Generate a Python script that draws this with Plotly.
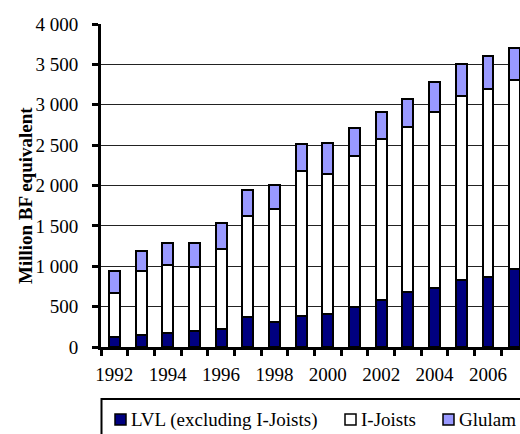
import plotly.graph_objects as go

years = list(range(1992, 2008))
lvl = [120, 150, 170, 200, 225, 375, 305, 390, 410, 500, 585, 675, 735, 830, 865, 960]
ijoists = [550, 790, 840, 790, 990, 1245, 1405, 1790, 1735, 1860, 1990, 2055, 2175, 2275, 2330, 2350]
glulam = [275, 255, 275, 295, 325, 320, 300, 335, 385, 350, 340, 345, 375, 400, 410, 395]

series_names = ["LVL (excluding I-Joists)", "I-Joists", "Glulam"]
series_colors = ["#000080", "#FFFFFF", "#9999FF"]

y_ticks = [0, 500, 1000, 1500, 2000, 2500, 3000, 3500, 4000]
y_ticktext = ["0", "500", "1 000", "1 500", "2 000", "2 500", "3 000", "3 500", "4 000"]
x_label_years = [1992, 1994, 1996, 1998, 2000, 2002, 2004, 2006]

FONT = "Liberation Serif, Times New Roman, serif"

W, H = 520, 434
ML, MR, MT, MB = 101, 0, 24, 87
PW, PH = W - ML - MR, H - MT - MB


def px_x(p):
    return (p - ML) / PW


def px_y(p):
    return (H - MB - p) / PH


fig = go.Figure()
for name, vals, col in zip(series_names, [lvl, ijoists, glulam], series_colors):
    fig.add_trace(go.Bar(
        x=years, y=vals, name=name, width=0.41,
        marker=dict(color=col, line=dict(color="black", width=2)),
        showlegend=False,
    ))

boundaries = [y - 0.5 for y in years]

# manual legend (box, swatches, labels)
shapes = [dict(type="rect", xref="paper", yref="paper",
               x0=px_x(101.5), x1=px_x(540), y0=px_y(399), y1=px_y(450),
               line=dict(color="black", width=2), fillcolor="white", layer="above")]
annotations = []
sw_left = [115, 345, 443]
for i, (name, col) in enumerate(zip(series_names, series_colors)):
    x0 = sw_left[i]
    shapes.append(dict(type="rect", xref="paper", yref="paper",
                       x0=px_x(x0), x1=px_x(x0 + 11), y0=px_y(425), y1=px_y(414),
                       line=dict(color="black", width=1.5), fillcolor=col, layer="above"))
    annotations.append(dict(xref="paper", yref="paper", x=px_x(x0 + 14), y=px_y(419.5),
                            xanchor="left", yanchor="middle", text=name, showarrow=False,
                            font=dict(family=FONT, size=19, color="black")))

annotations.append(dict(xref="paper", yref="paper", x=px_x(26), y=px_y(196),
                        xanchor="center", yanchor="middle", textangle=-90,
                        text="<b>Million BF equivalent</b>", showarrow=False,
                        font=dict(family=FONT, size=19, color="black")))

fig.update_layout(
    barmode="stack",
    width=W, height=H,
    margin=dict(l=ML, r=MR, t=MT, b=MB, autoexpand=False),
    paper_bgcolor="white", plot_bgcolor="white",
    font=dict(family=FONT, size=19, color="black"),
    showlegend=False,
    shapes=shapes,
    annotations=annotations,
    xaxis=dict(
        range=[1991.5, 2007.2],
        tickmode="array", tickvals=x_label_years,
        ticktext=[str(v) for v in x_label_years],
        ticks="", ticklabelstandoff=8,
        minor=dict(tickmode="array", tickvals=boundaries, ticks="outside",
                   ticklen=6, tickwidth=3, tickcolor="black", showgrid=False),
        showline=True, linecolor="black", linewidth=3,
        showgrid=False, zeroline=False,
        tickfont=dict(family=FONT, size=19, color="black"),
    ),
    yaxis=dict(
        range=[0, 4000],
        tickmode="array", tickvals=y_ticks, ticktext=y_ticktext,
        ticks="outside", ticklen=6, tickwidth=3, tickcolor="black",
        ticklabelstandoff=10,
        showline=True, linecolor="black", linewidth=3,
        showgrid=True, gridcolor="#222222", gridwidth=1,
        zeroline=False,
        tickfont=dict(family=FONT, size=19, color="black"),
    ),
)

fig.write_html("out.html")
